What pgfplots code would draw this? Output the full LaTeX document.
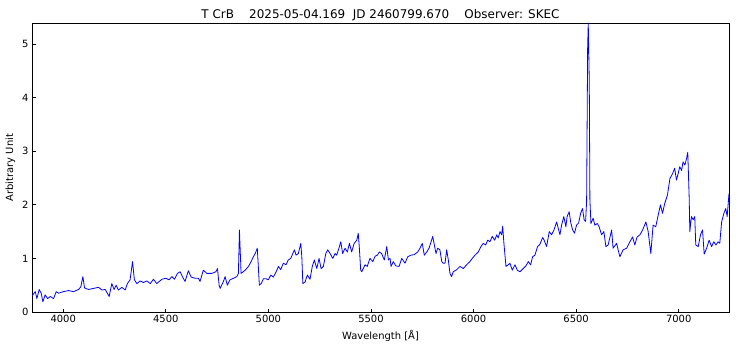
\documentclass[border=0pt]{standalone}
\usepackage{fontspec}
\setmainfont{DejaVu Sans}
\usepackage{pgfplots}
\pgfplotsset{compat=1.18}
\usepackage{pgfplotstable}

\pgfplotstableread{
lam val
3848 0.30
3864 0.38
3872 0.25
3883 0.42
3893 0.35
3901 0.19
3912 0.32
3924 0.25
3937 0.29
3953 0.25
3966 0.38
3977 0.35
4001 0.38
4026 0.40
4050 0.38
4075 0.42
4086 0.47
4096 0.66
4104 0.45
4123 0.42
4148 0.44
4172 0.46
4189 0.41
4205 0.42
4224 0.29
4237 0.53
4248 0.42
4258 0.50
4269 0.41
4286 0.46
4302 0.41
4313 0.53
4326 0.60
4338 0.94
4347 0.60
4359 0.53
4375 0.58
4391 0.55
4408 0.58
4424 0.53
4440 0.61
4456 0.53
4481 0.61
4500 0.63
4516 0.60
4530 0.66
4542 0.61
4557 0.72
4570 0.75
4581 0.66
4594 0.57
4610 0.77
4624 0.65
4643 0.63
4659 0.63
4667 0.57
4683 0.78
4700 0.72
4724 0.72
4744 0.75
4752 0.81
4760 0.50
4765 0.44
4781 0.57
4789 0.66
4800 0.50
4813 0.60
4830 0.63
4846 0.66
4854 0.72
4859 1.53
4867 0.72
4887 0.78
4903 0.85
4916 0.94
4927 1.03
4937 1.10
4946 1.19
4951 0.85
4956 0.50
4965 0.53
4976 0.62
4989 0.62
5000 0.60
5012 0.69
5024 0.65
5038 0.75
5049 0.85
5060 0.79
5073 0.91
5086 0.88
5097 0.97
5109 1.00
5119 1.09
5127 1.16
5135 1.06
5146 1.09
5158 1.28
5163 1.03
5168 0.53
5179 0.56
5190 0.69
5203 0.61
5214 0.85
5224 0.97
5236 0.81
5247 1.00
5257 0.81
5268 0.85
5280 1.09
5289 1.16
5301 1.09
5314 1.00
5325 1.09
5333 1.06
5344 1.19
5353 1.31
5362 1.09
5374 1.19
5385 1.12
5395 1.28
5406 1.12
5418 1.28
5431 1.34
5438 1.47
5443 1.22
5450 0.78
5455 0.75
5471 0.88
5482 0.85
5495 1.00
5509 0.94
5520 1.04
5531 1.06
5541 1.12
5552 1.09
5565 0.97
5577 1.22
5585 0.97
5593 1.00
5598 0.85
5609 0.94
5621 0.86
5637 0.85
5650 1.00
5666 0.91
5679 1.03
5695 1.06
5711 1.07
5728 1.12
5739 1.19
5750 1.28
5760 1.06
5772 1.12
5783 1.19
5793 1.31
5801 1.41
5809 1.25
5817 1.09
5825 1.19
5836 1.16
5845 0.94
5852 0.91
5861 0.91
5869 1.16
5877 0.97
5885 0.72
5893 0.66
5901 0.75
5918 0.79
5934 0.85
5950 0.81
5966 0.88
5982 0.94
5994 1.00
6007 1.06
6023 1.12
6036 1.22
6047 1.28
6059 1.25
6069 1.34
6080 1.31
6091 1.41
6103 1.34
6113 1.44
6120 1.38
6129 1.50
6137 1.44
6142 1.60
6148 1.28
6158 0.85
6169 0.88
6177 0.91
6189 0.78
6202 0.88
6213 0.78
6226 0.75
6242 0.81
6255 0.86
6267 0.94
6278 0.88
6288 1.03
6299 1.06
6312 1.22
6323 1.26
6337 1.39
6344 1.34
6356 1.22
6369 1.50
6380 1.44
6392 1.53
6405 1.68
6413 1.56
6421 1.44
6429 1.62
6440 1.78
6450 1.59
6456 1.78
6466 1.87
6474 1.66
6483 1.53
6492 1.47
6502 1.62
6512 1.66
6522 1.84
6531 1.93
6539 1.72
6546 1.69
6551 2.06
6556 4.92
6559 5.39
6564 4.30
6567 2.10
6572 1.65
6583 1.75
6591 1.62
6603 1.65
6612 1.59
6624 1.44
6635 1.50
6645 1.22
6656 1.25
6673 1.53
6680 1.19
6697 1.28
6713 1.03
6729 1.16
6746 1.19
6762 1.31
6775 1.40
6786 1.25
6797 1.40
6811 1.44
6824 1.53
6840 1.68
6851 1.50
6864 1.09
6875 1.62
6888 1.59
6900 1.81
6911 2.00
6921 1.84
6932 2.03
6945 2.18
6957 2.49
6970 2.58
6980 2.68
6989 2.46
6997 2.58
7005 2.71
7014 2.64
7021 2.80
7030 2.74
7038 2.86
7044 2.98
7051 2.12
7054 1.50
7062 1.78
7070 1.72
7078 1.78
7083 1.25
7095 1.22
7106 1.44
7116 1.53
7124 1.08
7136 1.19
7148 1.34
7160 1.22
7171 1.31
7181 1.25
7192 1.31
7200 1.28
7209 1.68
7220 1.84
7229 1.93
7236 1.78
7245 2.21
}\spectrum

\begin{document}
\begin{tikzpicture}
\begin{axis}[
  scale only axis,
  width=697bp, height=289bp,
  xmin=3848, xmax=7245, ymin=0, ymax=5.39,
  xtick={4000,4500,5000,5500,6000,6500,7000},
  ytick={0,1,2,3,4,5},
  tick align=inside,
  xtick pos=bottom, ytick pos=left,
  major tick length=3.5bp,
  tick style={black, line width=0.8bp},
  axis line style={black, line width=0.8bp},
  ticklabel style={font=\fontsize{10}{12}\selectfont},
  /pgf/number format/assume math mode=true,
  /pgf/number format/1000 sep={},
  title={T CrB~~~~2025-05-04.169~~JD 2460799.670~~~~Observer: SKEC},
  title style={font=\fontsize{12}{14}\selectfont, at={(0.5,1)}, anchor=base, yshift=-1.5bp},
  xlabel={Wavelength [Å]},
  ylabel={Arbitrary Unit},
  label style={font=\fontsize{10}{12}\selectfont},
]
\addplot[blue, line width=0.8bp, line join=round, mark=none] table[x=lam, y=val] {\spectrum};
\coordinate (LL) at (rel axis cs:0,0);
\coordinate (UR) at (rel axis cs:1,1);
\end{axis}
\pgfresetboundingbox
\path[use as bounding box] ([shift={(-32bp,-37bp)}]LL) rectangle ([shift={(7bp,23bp)}]UR);
\end{tikzpicture}
\end{document}
